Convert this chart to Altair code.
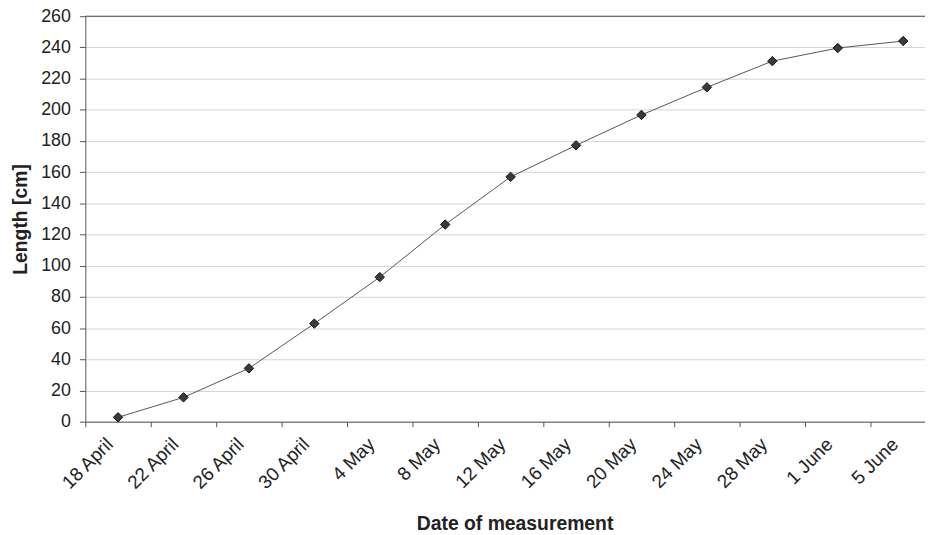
import altair as alt
import pandas as pd

dates = ["18 April", "22 April", "26 April", "30 April", "4 May", "8 May",
         "12 May", "16 May", "20 May", "24 May", "28 May", "1 June", "5 June"]
lengths = [2.8, 15.6, 34.2, 62.9, 92.7, 126.4, 157.0, 177.2, 196.7, 214.4,
           231.2, 239.6, 244.1]
y_ticks = list(range(0, 261, 20))
y_top = [260]

df = pd.DataFrame({"date": dates, "length": lengths})
top_df = pd.DataFrame({"length": y_top})

FONT = "Liberation Sans"

x_enc = alt.X(
    "date:N", sort=dates,
    scale=alt.Scale(type="band", paddingInner=0, paddingOuter=0, range=[0, 858]),
    axis=alt.Axis(
        title="Date of measurement",
        labelAngle=-45, labelAlign="right", labelBaseline="top",
        labelOffset=-15, labelPadding=8, tickSize=5, tickBand="extent",
        grid=False, domainColor="#555555", tickColor="#555555",
        labelFont=FONT, labelFontSize=19, labelColor="#222222",
        titleFont=FONT, titleFontSize=19.5, titleFontWeight="bold", titleColor="#222222",
        titleX=433, titleY=109, titleBaseline="alphabetic", titleAlign="center",
        labelOverlap=False, labelFlush=False,
    ),
)

y_axis = alt.Axis(
    values=y_ticks, title="Length [cm]", tickCount=14,
    grid=True, gridColor="#d4d4d4", gridWidth=1,
    domainColor="#555555", tickColor="#555555", tickSize=6, labelPadding=9,
    labelFont=FONT, labelFontSize=18, labelColor="#222222", labelOverlap=False,
    titleFont=FONT, titleFontSize=19.5, titleFontWeight="bold", titleColor="#222222",
    titleAngle=-90, titleX=-65, titleY=204.5, titleAlign="center",
    titleBaseline="middle",
)
y_scale = alt.Scale(domain=[0, 260], nice=False, zero=True)
y_enc = alt.Y("length:Q", scale=y_scale, axis=y_axis)

base = alt.Chart(df)

line = base.mark_line(color="#555555", strokeWidth=1).encode(x=x_enc, y=y_enc)
points = base.mark_point(shape="diamond", filled=True, size=90, fill="#3a3a3a",
                         stroke="#111111", strokeWidth=1, opacity=1).encode(x=x_enc, y=y_enc)
top_rule = alt.Chart(top_df).mark_rule(color="#444444", strokeWidth=1).encode(y=y_enc)

chart = alt.layer(top_rule, line, points).properties(
    width=847, height=409,
    padding={"left": 78, "top": 6, "right": 0, "bottom": 112},
    autosize=alt.AutoSizeParams(type="none"),
    background="white",
).configure_view(stroke=None)

chart.save("out.html", embed_options={"renderer": "svg", "actions": False})
